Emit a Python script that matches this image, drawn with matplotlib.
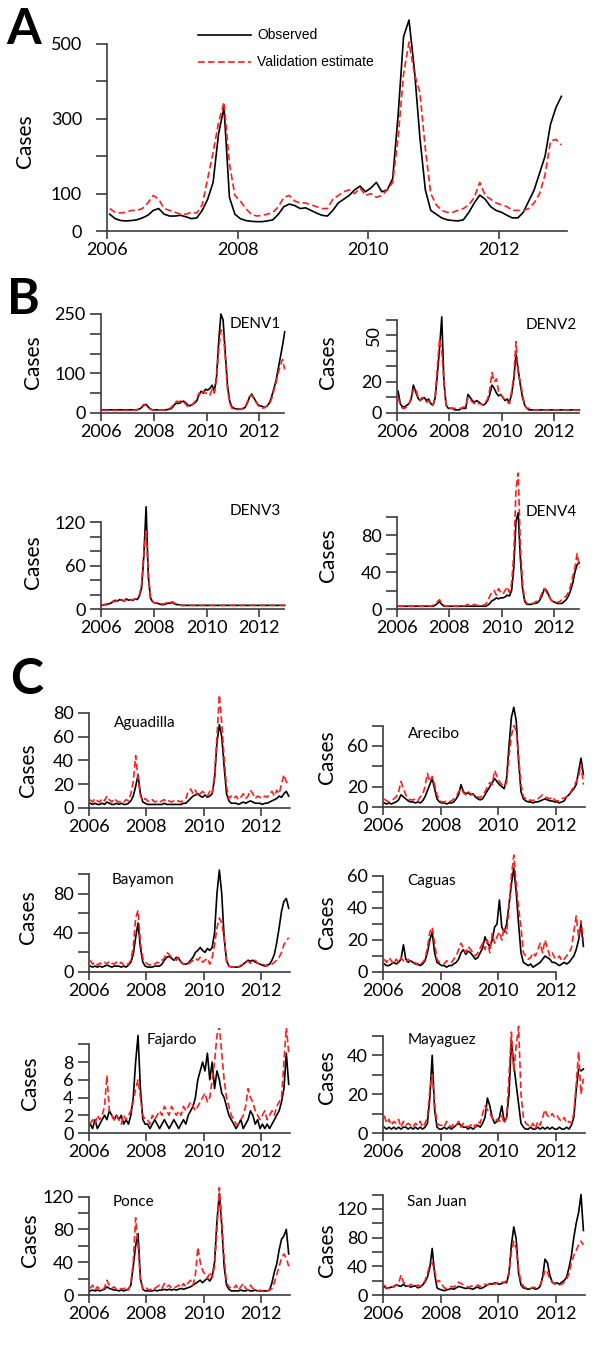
#!/usr/bin/env python
# -*- coding: utf-8 -*-

# Observed vs validation-estimated dengue cases, Puerto Rico 2006-2012
# (A) island total, (B) by serotype, (C) by health region

import numpy as np
import matplotlib
matplotlib.use('Agg')
import matplotlib.pyplot as plt
from matplotlib.lines import Line2D

W, H = 600, 1353

# monthly values, Jan 2006 .. Dec 2012
total_obs = [45, 33, 28, 27, 28, 30, 35, 42, 55, 60, 45, 40,
             40, 42, 38, 33, 35, 55, 85, 130, 260, 330, 90, 45,
             33, 28, 26, 25, 25, 27, 30, 45, 65, 72, 68, 60,
             62, 55, 48, 42, 40, 55, 75, 85, 95, 110, 120, 105,
             115, 130, 105, 110, 140, 310, 520, 564, 430, 250, 110, 55,
             45, 35, 30, 28, 27, 30, 50, 75, 96, 85, 65, 55,
             50, 42, 35, 35, 50, 80, 110, 155, 200, 285, 330, 360]
total_est = [60, 50, 48, 50, 55, 55, 60, 75, 95, 85, 60, 55,
             50, 45, 45, 50, 48, 70, 140, 210, 290, 345, 180, 95,
             80, 60, 45, 40, 42, 45, 50, 65, 90, 95, 80, 75,
             75, 70, 65, 60, 60, 85, 95, 105, 110, 100, 115, 95,
             100, 90, 95, 110, 130, 250, 420, 505, 420, 370, 220, 100,
             70, 55, 50, 50, 55, 60, 70, 90, 130, 95, 85, 75,
             70, 65, 55, 55, 55, 60, 75, 100, 150, 240, 245, 230]

denv1_obs = [8, 8, 8, 8, 8, 8, 8, 8, 8, 8, 8, 8,
             8, 8, 8, 8, 8, 10, 14, 20, 22, 15, 10, 8,
             8, 8, 8, 8, 8, 8, 9, 10, 14, 22, 25, 24,
             28, 30, 26, 20, 18, 22, 25, 30, 45, 55, 50, 60,
             58, 62, 70, 55, 90, 180, 250, 235, 150, 70, 30, 15,
             12, 10, 10, 10, 11, 14, 25, 40, 48, 38, 28, 20,
             18, 16, 14, 18, 25, 40, 60, 80, 110, 140, 170, 205]
denv1_est = [7, 7, 7, 7, 7, 7, 7, 7, 7, 7, 7, 7,
             7, 7, 7, 8, 9, 11, 16, 22, 18, 13, 9, 8,
             7, 8, 8, 8, 8, 9, 10, 12, 18, 26, 30, 28,
             32, 28, 22, 16, 18, 20, 28, 35, 50, 45, 55, 50,
             50, 45, 60, 50, 85, 160, 210, 205, 140, 60, 25, 12,
             10, 8, 9, 10, 12, 15, 28, 42, 45, 35, 28, 18,
             15, 12, 14, 18, 22, 35, 55, 75, 100, 120, 135, 110]

denv2_obs = [14, 6, 4, 4, 5, 6, 9, 18, 14, 10, 8, 9,
             10, 8, 9, 6, 5, 10, 25, 42, 62, 20, 5, 3,
             3, 3, 2, 2, 2, 3, 3, 3, 12, 10, 8, 7,
             8, 7, 6, 5, 6, 8, 12, 18, 16, 13, 11, 12,
             10, 8, 9, 7, 12, 22, 38, 28, 18, 10, 5, 3,
             2, 2, 2, 2, 2, 2, 2, 2, 2, 2, 2, 2,
             2, 2, 2, 2, 2, 2, 2, 2, 2, 2, 2, 2]
denv2_est = [10, 5, 3, 3, 4, 6, 10, 15, 16, 11, 8, 10,
             9, 7, 8, 5, 5, 11, 30, 48, 40, 20, 5, 3,
             3, 3, 3, 3, 3, 3, 4, 4, 10, 9, 7, 6,
             7, 6, 6, 5, 7, 9, 15, 26, 20, 22, 14, 12,
             10, 8, 7, 6, 14, 24, 46, 25, 20, 12, 5, 3,
             3, 3, 2, 2, 2, 2, 2, 2, 2, 2, 2, 2,
             2, 2, 2, 2, 2, 2, 2, 2, 2, 2, 2, 2]

denv3_obs = [5, 6, 6, 7, 8, 10, 12, 11, 13, 12, 11, 14,
             12, 13, 12, 14, 13, 18, 30, 75, 141, 45, 15, 10,
             8, 8, 7, 6, 6, 7, 8, 8, 9, 7, 6, 6,
             5, 5, 5, 5, 5, 5, 5, 5, 5, 5, 5, 5,
             5, 5, 5, 5, 5, 5, 5, 5, 5, 5, 5, 5,
             5, 5, 5, 5, 5, 5, 5, 5, 5, 5, 5, 5,
             5, 5, 5, 5, 5, 5, 5, 5, 5, 5, 5, 5]
denv3_est = [6, 6, 7, 8, 9, 11, 10, 12, 12, 13, 11, 13,
             13, 12, 13, 14, 15, 20, 35, 80, 110, 50, 15, 10,
             8, 9, 8, 7, 7, 8, 10, 9, 10, 8, 6, 6,
             5, 5, 5, 5, 5, 5, 5, 5, 5, 5, 5, 5,
             5, 5, 5, 5, 5, 5, 5, 5, 5, 5, 5, 5,
             5, 5, 5, 5, 5, 5, 5, 5, 5, 5, 5, 5,
             5, 5, 5, 5, 5, 5, 5, 5, 5, 5, 5, 5]

denv4_obs = [3, 3, 3, 3, 3, 3, 3, 3, 3, 3, 3, 3,
             3, 3, 3, 3, 3, 4, 6, 8, 5, 3, 3, 3,
             3, 3, 3, 3, 3, 3, 3, 3, 3, 3, 3, 3,
             3, 3, 3, 3, 3, 4, 6, 9, 10, 12, 11, 12,
             12, 13, 15, 14, 20, 45, 95, 104, 55, 22, 8, 5,
             5, 5, 6, 6, 7, 10, 15, 22, 20, 15, 10, 8,
             7, 6, 6, 6, 8, 10, 14, 20, 28, 40, 48, 50]
denv4_est = [3, 3, 3, 3, 3, 3, 3, 3, 3, 3, 3, 3,
             3, 3, 3, 3, 4, 5, 8, 10, 6, 4, 3, 3,
             3, 3, 3, 3, 3, 3, 3, 4, 5, 4, 4, 5,
             4, 4, 4, 4, 5, 8, 14, 18, 20, 15, 22, 18,
             16, 20, 24, 18, 28, 60, 130, 147, 70, 28, 10, 6,
             5, 6, 6, 8, 9, 12, 18, 22, 18, 14, 10, 8,
             8, 7, 8, 10, 12, 14, 18, 25, 35, 45, 60, 45]

aguadilla_obs = [4, 3, 4, 3, 3, 4, 3, 5, 4, 3, 3, 4,
                 3, 4, 3, 3, 4, 6, 10, 18, 28, 12, 5, 4,
                 3, 3, 3, 3, 3, 3, 3, 4, 3, 3, 3, 3,
                 3, 3, 3, 4, 4, 6, 8, 10, 11, 12, 10, 9,
                 11, 9, 10, 12, 25, 55, 70, 60, 35, 12, 6, 4,
                 4, 4, 3, 4, 5, 4, 5, 6, 5, 4, 4, 4,
                 3, 4, 4, 5, 6, 7, 8, 10, 9, 12, 14, 10]
aguadilla_est = [7, 5, 8, 6, 5, 8, 6, 10, 7, 5, 8, 6,
                 5, 6, 5, 7, 6, 12, 22, 44, 25, 10, 6, 8,
                 6, 5, 7, 5, 6, 5, 6, 7, 5, 6, 5, 6,
                 5, 6, 5, 7, 8, 14, 16, 12, 15, 10, 12, 14,
                 12, 10, 14, 12, 28, 60, 95, 72, 42, 18, 8, 10,
                 8, 10, 7, 9, 12, 8, 10, 15, 12, 8, 10, 9,
                 8, 10, 9, 12, 14, 10, 15, 12, 20, 28, 22, 20]

arecibo_obs = [4, 3, 4, 3, 4, 5, 7, 12, 10, 8, 6, 5,
               5, 4, 5, 4, 6, 10, 16, 22, 28, 18, 8, 5,
               4, 4, 3, 4, 4, 5, 8, 12, 22, 15, 13, 14,
               12, 13, 10, 8, 7, 8, 12, 16, 20, 24, 28, 25,
               22, 20, 18, 28, 60, 88, 98, 85, 45, 15, 8, 6,
               5, 5, 4, 5, 5, 6, 7, 8, 7, 6, 6, 5,
               5, 4, 5, 6, 10, 12, 15, 18, 22, 35, 48, 32]
arecibo_est = [8, 6, 5, 6, 8, 10, 15, 25, 18, 12, 8, 7,
               7, 8, 6, 10, 12, 20, 33, 25, 30, 22, 12, 6,
               5, 5, 6, 5, 6, 8, 10, 15, 18, 14, 12, 15,
               13, 12, 10, 10, 9, 12, 15, 20, 24, 22, 36, 30,
               25, 22, 20, 24, 50, 70, 80, 75, 50, 22, 10, 8,
               6, 7, 6, 8, 8, 10, 12, 10, 9, 8, 10, 7,
               6, 6, 8, 9, 10, 12, 16, 20, 25, 30, 42, 22]

bayamon_obs = [6, 5, 6, 5, 6, 5, 6, 7, 6, 5, 6, 6,
               6, 5, 6, 5, 7, 10, 18, 35, 50, 25, 10, 6,
               5, 5, 5, 6, 6, 6, 8, 12, 15, 16, 14, 12,
               15, 14, 10, 8, 8, 9, 12, 15, 20, 22, 25, 22,
               20, 24, 22, 25, 40, 80, 104, 80, 35, 12, 6, 5,
               5, 5, 5, 6, 8, 10, 12, 11, 12, 10, 9, 8,
               7, 6, 7, 8, 12, 18, 30, 45, 62, 72, 75, 65]
bayamon_est = [12, 8, 10, 7, 9, 8, 10, 8, 11, 9, 8, 10,
               8, 10, 7, 9, 8, 12, 25, 55, 63, 30, 14, 10,
               8, 7, 9, 8, 10, 9, 12, 14, 20, 18, 15, 14,
               12, 15, 10, 8, 9, 8, 10, 12, 14, 12, 15, 10,
               12, 14, 8, 15, 28, 45, 55, 50, 35, 10, 6, 5,
               5, 6, 5, 7, 8, 10, 11, 9, 10, 12, 9, 8,
               8, 7, 6, 8, 8, 10, 12, 15, 20, 28, 32, 35]

caguas_obs = [5, 4, 4, 5, 6, 5, 6, 8, 17, 8, 6, 7,
              6, 5, 5, 4, 5, 7, 12, 20, 25, 12, 6, 5,
              4, 4, 3, 4, 4, 5, 6, 8, 12, 14, 11, 13,
              12, 10, 8, 9, 12, 15, 22, 18, 16, 20, 28, 30,
              45, 28, 25, 30, 42, 55, 65, 50, 30, 12, 6, 5,
              4, 5, 3, 4, 5, 6, 8, 10, 9, 8, 6, 6,
              5, 4, 5, 6, 5, 6, 8, 10, 14, 20, 30, 16]
caguas_est = [8, 6, 9, 7, 5, 8, 6, 9, 7, 6, 8, 6,
              5, 6, 4, 5, 6, 8, 15, 25, 28, 18, 8, 6,
              6, 5, 7, 6, 6, 8, 10, 14, 18, 15, 12, 16,
              14, 12, 10, 12, 15, 18, 14, 20, 12, 24, 18, 22,
              25, 20, 28, 24, 40, 60, 73, 55, 40, 28, 12, 10,
              8, 9, 12, 10, 14, 18, 12, 20, 15, 10, 12, 9,
              8, 10, 7, 8, 10, 12, 15, 25, 35, 22, 32, 20]

fajardo_obs = [1, 0.5, 1.5, 0.5, 1, 1.5, 2, 1.5, 2.5, 2, 1.5, 2,
               1.5, 2, 1, 1.5, 1, 2, 4, 8, 11, 5, 1.5, 1,
               1, 0.5, 1, 1.5, 1, 0.5, 1, 1.5, 1, 0.5, 1, 1.5,
               1, 0.5, 1, 1.5, 1, 2, 2.5, 3, 4, 6, 7, 8,
               7, 9, 6, 8, 5, 7, 6, 4.5, 4, 3, 2, 1.5,
               1, 0.5, 1, 1.5, 0.5, 1, 1.5, 2.5, 2, 1, 1.5, 0.5,
               1, 0.5, 1, 0.5, 1, 1.5, 2, 2.5, 3.5, 5, 9, 5.5]
fajardo_est = [1, 1.5, 1, 2, 1.5, 2, 3, 6.5, 2.5, 2, 1.5, 2,
               1.5, 1, 2, 1.5, 2, 2.5, 3.5, 5, 6, 4, 2, 1.5,
               1.5, 1, 2, 1.5, 2, 2.5, 2, 3, 2.5, 2, 3, 2.5,
               2, 2.5, 2, 3, 2.5, 3, 3.5, 3, 2.5, 3, 3.5, 4,
               4.5, 3.5, 4, 6, 8, 11, 12, 9, 6, 4, 3, 2,
               1.5, 1, 1, 1.5, 2, 3, 5, 4, 3.5, 2.5, 2, 1.5,
               2, 2.5, 1.5, 2, 2.5, 2, 3, 3.5, 4, 8, 12, 9]

mayaguez_obs = [3, 2, 3, 2, 3, 2, 3, 2, 3, 3, 2, 3,
                2, 3, 2, 3, 2, 3, 5, 18, 40, 12, 3, 2,
                2, 3, 2, 3, 2, 3, 4, 5, 4, 3, 3, 2,
                3, 2, 3, 4, 3, 5, 8, 18, 14, 8, 5, 6,
                8, 14, 6, 8, 20, 48, 35, 25, 15, 5, 3, 2,
                2, 3, 2, 2, 3, 2, 3, 2, 3, 2, 3, 2,
                2, 3, 2, 2, 3, 2, 4, 8, 22, 33, 32, 33]
mayaguez_est = [9, 5, 7, 4, 6, 5, 7, 3, 6, 4, 5, 4,
                3, 5, 4, 6, 3, 5, 8, 22, 30, 15, 5, 4,
                4, 3, 6, 4, 3, 5, 4, 6, 3, 5, 4, 3,
                4, 5, 3, 6, 5, 10, 14, 12, 10, 8, 6, 7,
                6, 9, 5, 8, 30, 52, 32, 45, 55, 20, 8, 5,
                4, 3, 5, 2, 6, 4, 8, 12, 9, 8, 10, 8,
                9, 7, 6, 8, 5, 6, 5, 10, 25, 42, 20, 28]

ponce_obs = [5, 6, 5, 6, 5, 6, 7, 10, 8, 7, 6, 6,
             5, 6, 5, 6, 7, 12, 35, 60, 75, 20, 7, 5,
             5, 5, 5, 6, 5, 6, 6, 7, 6, 7, 6, 7,
             6, 7, 8, 7, 8, 9, 10, 12, 14, 16, 18, 15,
             18, 20, 17, 22, 40, 90, 124, 85, 35, 12, 7, 5,
             5, 5, 5, 6, 5, 5, 6, 5, 5, 6, 5, 5,
             5, 5, 5, 6, 15, 28, 38, 55, 68, 72, 80, 50]
ponce_est = [8, 12, 6, 10, 7, 6, 9, 18, 12, 8, 10, 7,
             6, 8, 7, 10, 6, 15, 40, 94, 60, 18, 8, 10,
             7, 6, 9, 8, 10, 12, 8, 14, 10, 12, 8, 9,
             10, 12, 9, 14, 10, 15, 18, 12, 25, 58, 40, 30,
             25, 20, 28, 22, 35, 80, 131, 90, 45, 15, 10, 8,
             8, 12, 6, 10, 14, 8, 6, 12, 8, 6, 5, 6,
             5, 6, 5, 6, 8, 15, 25, 35, 45, 50, 45, 35]

sanjuan_obs = [12, 9, 10, 11, 12, 14, 13, 12, 15, 12, 13, 11,
               12, 13, 10, 11, 14, 18, 25, 38, 65, 30, 10, 8,
               7, 6, 7, 8, 9, 8, 10, 12, 11, 10, 9, 10,
               9, 8, 10, 11, 9, 10, 12, 14, 16, 15, 17, 16,
               15, 16, 18, 17, 30, 70, 95, 78, 30, 14, 10, 9,
               8, 9, 10, 8, 9, 12, 25, 50, 45, 28, 18, 16,
               17, 15, 18, 20, 25, 38, 55, 80, 100, 115, 140, 90]
sanjuan_est = [14, 10, 9, 12, 11, 14, 16, 28, 18, 14, 12, 15,
               13, 12, 14, 12, 15, 20, 30, 42, 45, 35, 18, 20,
               15, 10, 9, 10, 12, 11, 14, 18, 16, 14, 12, 11,
               12, 13, 11, 14, 12, 13, 15, 14, 16, 18, 15, 17,
               16, 18, 17, 20, 32, 60, 75, 65, 35, 18, 12, 10,
               10, 9, 11, 10, 12, 14, 22, 35, 32, 22, 18, 15,
               16, 14, 15, 18, 22, 30, 45, 55, 62, 70, 75, 70]

years = [2006, 2008, 2010, 2012]
months = 2006 + (np.arange(84) + 0.5) / 12

plt.rcParams['font.family'] = ['Lato', 'DejaVu Sans']
AX_COL = '#3c3c3c'
RED = '#ff1e1e'

fig = plt.figure(figsize=(W / 100, H / 100), dpi=100)


def fx(x):
    return x / W


def fy(y):
    return 1 - y / H


def panel(x0, y0, pxyr, pxu, ytop, ystep, ylabs, ymax, xend, obs, est,
          ytick_pad=3, tick_size=13):
    # axes box placed from pixel geometry of the reference
    xmin, xmax = 2006, 2013.15
    ax = fig.add_axes([fx(x0), fy(y0), (xmax - xmin) * pxyr / W, ymax * pxu / H])
    ax.set_xlim(xmin, xmax)
    ax.set_ylim(0, ymax)
    ax.patch.set_visible(False)
    ax.plot(months, obs, color='black', lw=1.2, zorder=2)
    ax.plot(months, est, color=RED, lw=1.2, dashes=(4, 2), zorder=3)
    ax.spines['top'].set_visible(False)
    ax.spines['right'].set_visible(False)
    for s in ['left', 'bottom']:
        ax.spines[s].set_color(AX_COL)
        ax.spines[s].set_linewidth(1.2)
    ax.spines['left'].set_bounds(0, ytop)
    ax.spines['bottom'].set_bounds(2006, xend)
    ticks = np.arange(0, ytop + ystep / 2, ystep)
    ax.set_yticks(ticks, [('%g' % t) if t in ylabs else '' for t in ticks])
    ax.set_xticks(years, [str(y) for y in years])
    ax.tick_params(axis='y', length=8, width=1.2, color=AX_COL, pad=ytick_pad,
                   labelsize=tick_size)
    ax.tick_params(axis='x', length=6, width=1.2, color=AX_COL, pad=2,
                   labelsize=tick_size)
    return ax


def cases(x, y):
    fig.text(fx(x), fy(y), 'Cases', rotation=90, ha='center', va='center',
             fontsize=15)


def title(x, y, s):
    fig.text(fx(x), fy(y), s, ha='center', va='center', fontsize=11)


# A: all serotypes
axA = panel(107, 231, 65.3, 0.374, 500, 100, [0, 100, 300, 500], 600, 2013.05,
            total_obs, total_est, ytick_pad=10)
cases(25, 141)
fig.text(fx(24), fy(30), 'A', ha='center', va='center', fontsize=36,
         fontweight='bold')
fig.add_artist(Line2D([fx(198), fx(251)], [fy(35), fy(35)], color='black',
                      lw=1.2, transform=fig.transFigure))
fig.add_artist(Line2D([fx(198), fx(251)], [fy(62), fy(62)], color=RED,
                      lw=1.2, dashes=(4, 2), transform=fig.transFigure))
fig.text(fx(257), fy(35), 'Observed', ha='left', va='center', fontsize=10,
         family='Liberation Sans')
fig.text(fx(257), fy(62), 'Validation estimate', ha='left', va='center',
         fontsize=10, family='Liberation Sans')

# B: serotypes
fig.text(fx(23), fy(299), 'B', ha='center', va='center', fontsize=36,
         fontweight='bold')
panel(101, 413, 26.4, 0.396, 250, 50, [0, 100, 250], 275, 2012.95,
      denv1_obs, denv1_est)
cases(33, 362)
title(255, 324, 'DENV1')

axD2 = panel(397, 413, 26.2, 1.55, 60, 10, [0, 20, 50], 68, 2012.95,
             denv2_obs, denv2_est)
for lbl in axD2.get_yticklabels():
    if lbl.get_text() == '50':
        lbl.set_rotation(90)
        lbl.set_va('center')
cases(328, 362)
title(551, 325, 'DENV2')

panel(101, 609, 26.4, 0.725, 120, 20, [0, 60, 120], 150, 2012.95,
      denv3_obs, denv3_est)
cases(33, 562)
title(255, 511, 'DENV3')

panel(397, 609, 26.2, 0.925, 100, 20, [0, 40, 80], 155, 2012.95,
      denv4_obs, denv4_est)
cases(328, 555)
title(551, 512, 'DENV4')

# C: health regions
fig.text(fx(27), fy(680), 'C', ha='center', va='center', fontsize=36,
         fontweight='bold')
panel(89, 808, 28.7, 1.19, 80, 20, [0, 20, 40, 60, 80], 100, 2013.0,
      aguadilla_obs, aguadilla_est)
cases(28, 770)
title(145, 723, 'Aguadilla')

panel(383, 807, 28.8, 1.017, 80, 20, [0, 20, 60], 102, 2013.0,
      arecibo_obs, arecibo_est)
cases(327, 757)
title(434, 734, 'Arecibo')

panel(89, 972, 28.7, 0.98, 100, 20, [0, 40, 80], 110, 2013.0,
      bayamon_obs, bayamon_est)
cases(28, 917)
title(143, 880, 'Bayamon')

panel(383, 972, 28.8, 1.6, 60, 10, [0, 20, 40, 60], 76, 2012.0,
      caguas_obs, caguas_est)
cases(327, 922)
title(432, 881, 'Caguas')

panel(89, 1133, 28.7, 8.87, 10, 2, [0, 2, 4, 6, 8], 11.8, 2013.0,
      fajardo_obs, fajardo_est)
cases(30, 1083)
title(172, 1040, 'Fajardo')

panel(383, 1133, 28.8, 1.94, 50, 10, [0, 20, 40], 57, 2013.0,
      mayaguez_obs, mayaguez_est)
cases(327, 1077)
title(442, 1040, 'Mayaguez')

panel(89, 1295, 28.7, 0.82, 120, 20, [0, 40, 80, 120], 135, 2013.0,
      ponce_obs, ponce_est)
cases(30, 1240)
title(133, 1202, 'Ponce')

panel(383, 1295, 28.8, 0.717, 140, 20, [0, 40, 80, 120], 145, 2013.0,
      sanjuan_obs, sanjuan_est)
cases(327, 1250)
title(437, 1202, 'San Juan')

fig.savefig('out.png', dpi=100)
